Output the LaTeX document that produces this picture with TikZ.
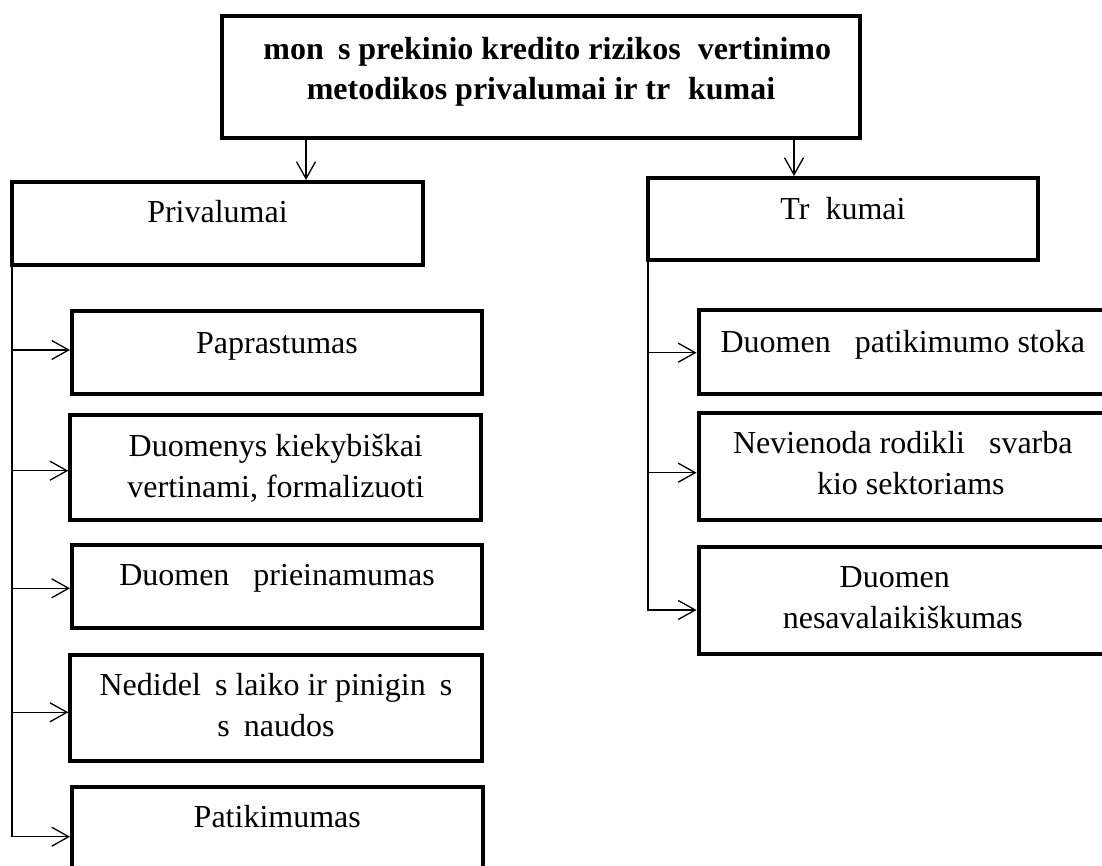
\documentclass[tikz,border=0pt]{standalone}
\usepackage{fontspec}
\setmainfont{Liberation Serif}
\usetikzlibrary{arrows.meta}
\begin{document}
\begin{tikzpicture}[x=1pt,y=-1pt,
  box/.style={draw, line width=4pt, inner sep=0pt},
  txt/.style={inner sep=0pt, anchor=base, font=\fontsize{32}{41.5}\selectfont},
  conn/.style={line width=1.3pt, -{Straight Barb[length=17pt,width=19pt]}}]
\useasboundingbox (0,0) rectangle (1102,866);
\clip (0,0) rectangle (1102,866);
\fill[white] (0,0) rectangle (1102,866);

% boxes
\node[box, minimum width=638, minimum height=122] (title) at (541,77) {};
\node[box, minimum width=411, minimum height=83] (priv) at (217.5,223.5) {};
\node[box, minimum width=390, minimum height=82] (trk) at (843,219) {};

\node[box, minimum width=410, minimum height=82.7] (p1) at (277,352.3) {};
\node[box, minimum width=411, minimum height=105] (p2) at (275.8,467.2) {};
\node[box, minimum width=410, minimum height=82.4] (p3) at (277,586.5) {};
\node[box, minimum width=411.4, minimum height=105.7] (p4) at (276,708.2) {};
\node[box, minimum width=410.5, minimum height=83] (p5) at (277.3,828.5) {};

\node[box, minimum width=408.5, minimum height=83] (r1) at (902.8,352) {};
\node[box, minimum width=408.5, minimum height=107] (r2) at (902.8,466.7) {};
\node[box, minimum width=408.5, minimum height=106.7] (r3) at (902.8,600.3) {};

% texts
\node[txt] (ttitle) at (541,60) {\bfseries\begin{tabular}[t]{@{}c@{}}\phantom{Į}mon\phantom{ė}s prekinio kredito rizikos \phantom{į}vertinimo\\[-2pt] metodikos privalumai ir tr\phantom{ū}kumai\end{tabular}};
\node[txt] (tpriv) at (217.5,223) {Privalumai};
\node[txt] (ttrk) at (843,220) {Tr\phantom{ū}kumai};

\node[txt] (tp1) at (277,353) {Paprastumas};
\node[txt] (tp2) at (275.8,456) {\begin{tabular}[t]{@{}c@{}}Duomenys kiekybiškai\\ vertinami, formalizuoti\end{tabular}};
\node[txt] (tp3) at (277,585) {Duomen\phantom{ų} prieinamumas};
\node[txt] (tp4) at (276,695) {\begin{tabular}[t]{@{}c@{}}Nedidel\phantom{ė}s laiko ir pinigin\phantom{ė}s\\ s\phantom{ą}naudos\end{tabular}};
\node[txt] (tp5) at (277.3,827) {Patikimumas};

\node[txt] (tr1) at (902.8,352) {Duomen\phantom{ų} patikimumo stoka};
\node[txt] (tr2) at (902.8,453) {\begin{tabular}[t]{@{}c@{}}Nevienoda rodikli\phantom{ų} svarba\\ \phantom{ū}kio sektoriams\end{tabular}};
\node[txt] (tr3) at (902.8,587) {\begin{tabular}[t]{@{}c@{}}Duomen\phantom{ų}\\ nesavalaikiškumas\end{tabular}};

% connector coordinates
\coordinate (ax1) at (306,0);
\coordinate (ax2) at (794,0);
\coordinate (ltop) at ([xshift=2pt]priv.south west);
\coordinate (rtop) at ([xshift=2pt]trk.south west);
\coordinate (ly1) at (0,350);
\coordinate (ly2) at (0,470.7);
\coordinate (ly3) at (0,588.3);
\coordinate (ly4) at (0,712.3);
\coordinate (ly5) at (0,836.7);
\coordinate (ry1) at (0,352.7);
\coordinate (ry2) at (0,472.7);
\coordinate (ry3) at (0,610);

% connectors
\draw[conn] (title.south -| ax1) -- (priv.north -| ax1);
\draw[conn] (title.south -| ax2) -- (trk.north -| ax2);

\draw[conn] (ltop) |- (p5.west |- ly5);
\draw[conn] (ltop |- ly1) -- (p1.west |- ly1);
\draw[conn] (ltop |- ly2) -- (p2.west |- ly2);
\draw[conn] (ltop |- ly3) -- (p3.west |- ly3);
\draw[conn] (ltop |- ly4) -- (p4.west |- ly4);

\draw[conn] (rtop) |- (r3.west |- ry3);
\draw[conn] (rtop |- ry1) -- (r1.west |- ry1);
\draw[conn] (rtop |- ry2) -- (r2.west |- ry2);
\end{tikzpicture}
\end{document}
